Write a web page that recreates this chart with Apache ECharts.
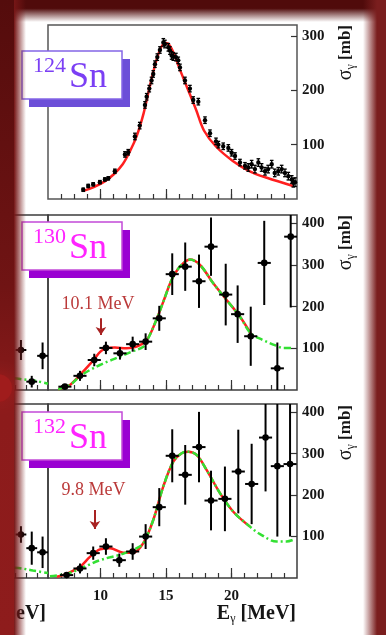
<!DOCTYPE html>
<html><head><meta charset="utf-8">
<script src="https://cdn.jsdelivr.net/npm/echarts@6/dist/echarts.min.js"></script>
<style>html,body{margin:0;padding:0;background:#ffffff;}#c{width:386px;height:635px;}</style>
</head><body><div id="c"></div>
<script>
// ---------- axis ticks ----------
var xMinorTicks = [7,8,9,10,11,12,13,14,15,16,17,18,19,20,21,22,23,24];
var xMajorTicks = [10,15,20];
var xTickLabels = [10,15,20];
var fragTicks = [21,22,23,24];
var yTicks124 = [100,200,300];
var yTicks13x = [100,200,300,400];

// ---------- 124Sn ----------
var sn124E = [8.69,9.07,9.45,9.96,10.34,10.6,11.1,11.87,12.12,12.63,13.0,13.4,13.53,13.73,13.9,14.03,14.16,14.34,14.54,14.8,14.92,15.18,15.3,15.43,15.56,15.76,15.94,16.07,16.45,16.83,17.08,17.47,17.98,18.36,18.82,19.0,19.37,19.76,20.01,20.27,20.65,21.03,21.28,21.54,21.79,22.05,22.3,22.56,22.8,23.07,23.3,23.57,23.83,24.08,24.34,24.6,24.72,24.85];
var sn124S = [17,24,27,31,36,38,51,82,86,115,135,173,188,203,218,230,248,261,274,288,285,279,273,264,262,261,255,242,218,203,182,179,145,121,106,100,97,94,85,79,67,61,58,64,55,67,58,51,55,64,48,51,55,48,42,36,30,31];
var sn124Err = [3,3,3,3,3,3,4,5,5,6,6,6,6,6,6,6,6,6,6,7,7,7,7,7,7,7,6,6,6,6,6,6,6,6,6,6,6,6,6,6,6,6,7,7,7,7,7,7,7,7,7,7,7,7,7,7,8,8];
var fit124E = [8.7,9.5,10.3,11.0,11.7,12.3,12.8,13.3,13.7,14.1,14.5,14.8,15.05,15.3,15.6,16.0,16.6,17.3,17.9,18.8,20.1,21.4,22.7,24.7];
var fit124S = [15,22,32,45,64,90,118,158,200,240,272,285,287,282,268,242,206,164,126,97,70,51,39,24];

// ---------- 130Sn ----------
var sn130E = [7.29,8.44,9.53,10.42,11.49,12.46,13.45,14.49,15.48,16.47,17.52,18.44,19.56,20.47,21.47,22.5,23.5,24.52];
var sn130S = [8,34,72,101,88,110,116,172,278,296,261,344,229,182,129,305,52,368];
var sn130Err = [5,12,15,15,15,18,20,30,50,58,64,70,74,69,71,101,62,170];
var fit130E = [6.78,7.67,8.44,9.2,9.58,10.0,10.42,11.1,12.0,12.76,13.53,14.16,14.8,15.43,16.07,16.83,17.6,18.61,19.63,20.65,21.47];
var fit130S = [2,12,36,62,76,92,100,102,100,104,120,160,212,264,296,313,300,256,216,176,136];
var bg130E = [6.78,7.67,8.44,9.2,9.96,10.7,11.49,12.4,13.27,13.6,14.16,14.8,15.43,16.07,16.83,17.6,18.61,19.63,20.65,21.47,22.4,23.45,23.95,24.7];
var bg130S = [2,12,33,48,60,70,80,92,104,121,160,212,264,296,313,300,256,216,176,136,120,106,101,101];
var frag130E = [22.5,23.5,24.5];
var frag130S = [96,20,82];
var frag130Err = [24,14,32];
var fragBg130E = [21.9,22.55,23.8,25.0];
var fragBg130S = [28,26,22,15];
var arrow130 = {e:10.04, from:172, to:132, labelE:9.81, labelS:206, text:'10.1 MeV'};

// ---------- 132Sn ----------
var sn132E = [7.42,8.44,9.45,10.42,11.44,12.46,13.45,14.49,15.48,16.47,17.52,18.44,19.5,20.52,21.54,22.6,23.5,24.47];
var sn132S = [7,23,60,76,43,64,100,171,295,249,316,187,191,257,227,339,270,275];
var sn132Err = [5,12,16,20,16,20,30,46,64,72,85,72,78,101,97,130,170,175];
var fit132E = [6.66,7.42,8.44,9.2,9.96,10.73,11.74,12.5,13.27,14.03,14.8,15.56,16.2,16.7,17.34,18.1,19.12,20.14,21.41];
var fit132S = [3,10,27,51,69,72,61,61,84,140,221,281,301,305,297,261,205,160,124];
var bg132E = [6.15,7.42,8.44,9.2,9.96,10.73,11.49,12.3,13.0,13.35,14.03,14.8,15.56,16.2,16.7,17.34,18.1,19.12,20.14,21.41,22.18,23.45,24.2,24.7];
var bg132S = [4,10,22,33,43,50,56,66,76,88,140,221,281,301,305,297,261,205,160,124,106,88,88,92];
var frag132E = [22.5,23.5,24.5];
var frag132S = [105,72,62];
var frag132Err = [20,40,38];
var fragBg132E = [21.9,22.6,23.6,25.0];
var fragBg132S = [25,23,18,12];
var arrow132 = {e:9.58, from:164, to:118, labelE:9.47, labelS:212, text:'9.8 MeV'};

// ---------- rendering ----------
var FONT = "'Liberation Serif','DejaVu Serif',serif";
var RED = '#ff1f1f', GREEN = '#33e033';

function zip(a, b, c) { return a.map(function (v, i) { return c ? [v, b[i], c[i]] : [v, b[i]]; }); }

function errRender(halfW, cap, r, lw) {
  return function (params, api) {
    var cs = params.coordSys;
    var x = api.value(0), y = api.value(1), e = api.value(2);
    var c = api.coord([x, y]);
    var top = api.coord([x, y + e])[1], bot = api.coord([x, y - e])[1];
    var y0 = cs.y, y1 = cs.y + cs.height, x0 = cs.x, x1 = cs.x + cs.width;
    var st = {stroke: '#000', lineWidth: lw};
    var ch = [];
    ch.push({type: 'line', shape: {x1: c[0], y1: Math.max(top, y0), x2: c[0], y2: Math.min(bot, y1)}, style: st});
    if (halfW > 0) {
      var l = Math.max(api.coord([x - halfW, y])[0], x0), rr = Math.min(api.coord([x + halfW, y])[0], x1);
      if (c[1] >= y0 && c[1] <= y1) ch.push({type: 'line', shape: {x1: l, y1: c[1], x2: rr, y2: c[1]}, style: st});
    }
    if (cap > 0) {
      if (top >= y0) ch.push({type: 'line', shape: {x1: c[0] - cap, y1: top, x2: c[0] + cap, y2: top}, style: st});
      if (bot <= y1) ch.push({type: 'line', shape: {x1: c[0] - cap, y1: bot, x2: c[0] + cap, y2: bot}, style: st});
    }
    if (c[1] >= y0 && c[1] <= y1) ch.push({type: 'circle', shape: {cx: c[0], cy: c[1], r: r}, style: {fill: '#000'}});
    return {type: 'group', children: ch};
  };
}

function errSeries(xi, yi, E, S, Err, halfW, cap, r, lw) {
  return {type: 'custom', xAxisIndex: xi, yAxisIndex: yi, data: zip(E, S, Err),
    renderItem: errRender(halfW, cap, r, lw), encode: {x: 0, y: 1}, z: 5, silent: true};
}
function lineSeries(xi, yi, E, S, color, dash, extra) {
  var s = {type: 'line', xAxisIndex: xi, yAxisIndex: yi, data: zip(E, S), smooth: 0.35,
    showSymbol: false, symbol: 'none', clip: true, silent: true, z: dash ? 4 : 3,
    lineStyle: {color: color, width: 2.5, type: dash || 'solid'}};
  if (extra) for (var k in extra) s[k] = extra[k];
  return s;
}
function arrowMark(a) {
  return {markLine: {silent: true, symbol: ['none', 'arrow'], symbolSize: 8,
    lineStyle: {color: '#a82222', width: 2, type: 'solid'}, label: {show: false},
    data: [[{coord: [a.e, a.from]}, {coord: [a.e, a.to]}]]}};
}

var frameCol = '#3c3c3c';
var grids = [
  {left: 48, top: 25, width: 249, height: 174, show: true, borderColor: '#555', borderWidth: 1.5},
  {left: 48, top: 215, width: 249, height: 175, show: true, borderColor: frameCol, borderWidth: 1.5},
  {left: 48, top: 404, width: 249, height: 174, show: true, borderColor: frameCol, borderWidth: 1.5},
  {left: -10, top: 215, width: 58, height: 175, show: true, borderColor: frameCol, borderWidth: 1.5},
  {left: -10, top: 404, width: 58, height: 174, show: true, borderColor: frameCol, borderWidth: 1.5}
];

var tickStyle = {color: '#333', width: 1.2};
function xAx(gi, min, max, ticks, len, labels) {
  return {type: 'value', gridIndex: gi, min: min, max: max, position: 'bottom',
    axisLine: {show: false}, splitLine: {show: false},
    axisTick: {show: true, inside: true, length: len, customValues: ticks, lineStyle: tickStyle},
    axisLabel: labels ? {show: true, customValues: labels, margin: 11, fontSize: 15, fontWeight: 'bold', fontFamily: FONT, color: '#151515'} : {show: false}};
}
function yAx(gi, max, ticks, show) {
  if (!show) return {type: 'value', gridIndex: gi, min: 0, max: max, show: false, splitLine: {show: false}};
  return {type: 'value', gridIndex: gi, min: 0, max: max, position: 'right',
    axisLine: {show: false}, splitLine: {show: false},
    axisTick: {show: true, inside: true, length: 6, customValues: ticks, lineStyle: tickStyle},
    axisLabel: {show: true, customValues: ticks, margin: 5, fontSize: 15, fontWeight: 'bold', fontFamily: FONT, color: '#151515'}};
}

var xAxes = [
  xAx(0, 6, 25, xMinorTicks, 5), xAx(1, 6, 25, xMinorTicks, 5), xAx(2, 6, 25, xMinorTicks, 5, xTickLabels),
  xAx(3, 20.57, 25, fragTicks, 5), xAx(4, 20.57, 25, fragTicks, 5),
  xAx(0, 6, 25, xMajorTicks, 10), xAx(1, 6, 25, xMajorTicks, 10), xAx(2, 6, 25, xMajorTicks, 10)
];
var yAxes = [yAx(0, 320, yTicks124, true), yAx(1, 420, yTicks13x, true), yAx(2, 420, yTicks13x, true), yAx(3, 420, null, false), yAx(4, 420, null, false)];

var dashPat = [7, 3, 2, 3];
var series = [
  lineSeries(0, 0, fit124E, fit124S, RED),
  errSeries(0, 0, sn124E, sn124S, sn124Err, 0, 1.8, 2.2, 1.3),

  lineSeries(1, 1, fit130E, fit130S, RED, null, arrowMark(arrow130)),
  lineSeries(1, 1, bg130E, bg130S, GREEN, dashPat),
  errSeries(1, 1, sn130E, sn130S, sn130Err, 0.5, 0, 3.3, 2),
  lineSeries(3, 3, fragBg130E, fragBg130S, GREEN, dashPat),
  errSeries(3, 3, frag130E, frag130S, frag130Err, 0.5, 0, 3.3, 2),

  lineSeries(2, 2, fit132E, fit132S, RED, null, arrowMark(arrow132)),
  lineSeries(2, 2, bg132E, bg132S, GREEN, dashPat),
  errSeries(2, 2, sn132E, sn132S, sn132Err, 0.5, 0, 3.3, 2),
  lineSeries(4, 4, fragBg132E, fragBg132S, GREEN, dashPat),
  errSeries(4, 4, frag132E, frag132S, frag132Err, 0.5, 0, 3.3, 2)
];

// ---------- decoration (border vignette, label boxes, titles) ----------
function hfade(c, toRight) {
  var tr = c.replace('rgb(', 'rgba(').replace(')', ',0)');
  return {type: 'linear', x: 0, y: 0, x2: 1, y2: 0,
    colorStops: toRight ? [{offset: 0, color: tr}, {offset: 1, color: c}] : [{offset: 0, color: c}, {offset: 1, color: tr}]};
}
function baseGraphics() {
  var g = [];
  var Z = 200;
  g.push({id: 'ft', type: 'rect', z: Z, shape: {x: 0, y: 0, width: 386, height: 22},
    style: {fill: {type: 'linear', x: 0, y: 0, x2: 0, y2: 1, colorStops: [
      {offset: 0, color: 'rgb(80,11,11)'}, {offset: 0.38, color: 'rgb(80,11,11)'}, {offset: 1, color: 'rgba(80,11,11,0)'}]}}});
  g.push({id: 'fl', type: 'rect', z: Z, shape: {x: 0, y: 0, width: 14, height: 635},
    style: {fill: {type: 'linear', x: 0, y: 0, x2: 0, y2: 1, colorStops: [
      {offset: 0, color: 'rgb(84,12,12)'}, {offset: 0.45, color: 'rgb(112,20,20)'}, {offset: 0.65, color: 'rgb(140,27,27)'}, {offset: 1, color: 'rgb(142,28,28)'}]}}});
  g.push({id: 'flf', type: 'rect', z: Z, shape: {x: 14, y: 0, width: 12, height: 635}, style: {fill: hfade('rgb(118,22,22)', false)}});
  g.push({id: 'fr', type: 'rect', z: Z, shape: {x: 363, y: 0, width: 14, height: 635}, style: {fill: hfade('rgb(122,30,30)', true)}});
  g.push({id: 'fr2', type: 'rect', z: Z, shape: {x: 377, y: 0, width: 9, height: 635}, style: {fill: 'rgb(122,30,30)'}});
  g.push({id: 'blob', type: 'circle', z: Z + 1, shape: {cx: -2, cy: 388, r: 14},
    style: {fill: '#a01c1c', shadowBlur: 16, shadowColor: '#a01c1c'}});

  function box(id, top, shadowC, borderC, textC, mass) {
    g.push({id: id + 'sh', type: 'rect', z: 50, shape: {x: 29, y: top + 8, width: 101, height: 48}, style: {fill: shadowC}});
    g.push({id: id + 'bx', type: 'rect', z: 51, shape: {x: 22, y: top, width: 100, height: 48}, style: {fill: '#fff', stroke: borderC, lineWidth: 1.5}});
    g.push({id: id + 'm', type: 'text', z: 52, x: 33, y: top + 15, style: {text: mass, fill: textC, font: '22px ' + FONT, align: 'left', verticalAlign: 'middle'}});
    g.push({id: id + 's', type: 'text', z: 52, x: 69, y: top + 27, style: {text: 'Sn', fill: textC, font: '36px ' + FONT, align: 'left', verticalAlign: 'middle'}});
  }
  box('b1', 51, '#6c4fd8', '#8466e6', '#7b3ff4', '124');
  box('b2', 222, '#9a00d2', '#c24ad8', '#ff24ff', '130');
  box('b3', 412, '#9a00d2', '#c24ad8', '#ff24ff', '132');

  var yRich = {s: {fontSize: 20, fontFamily: FONT, fill: '#151515'},
               g: {fontSize: 12, fontFamily: FONT, fill: '#151515', padding: [10, 0, 0, 0]},
               b: {fontSize: 17, fontWeight: 'bold', fontFamily: FONT, fill: '#151515'}};
  [25, 215, 405].forEach(function (t, i) {
    g.push({id: 'yt' + i, type: 'text', z: 52, x: 346, y: t, rotation: Math.PI / 2,
      style: {text: '{s|σ}{g|γ}{b| [mb]}', rich: yRich, align: 'right', verticalAlign: 'middle'}});
  });
  g.push({id: 'xt', type: 'text', z: 52, x: 296, y: 614,
    style: {text: '{e|E}{g|γ}{e| [MeV]}', align: 'right', verticalAlign: 'middle',
      rich: {e: {fontSize: 20, fontWeight: 'bold', fontFamily: FONT, fill: '#151515'},
             g: {fontSize: 12, fontFamily: FONT, fill: '#151515', padding: [10, 0, 0, 0]}}}});
  g.push({id: 'xt2', type: 'text', z: 52, x: 46, y: 614,
    style: {text: 'eV]', fill: '#151515', font: 'bold 20px ' + FONT, align: 'right', verticalAlign: 'middle'}});
  return g;
}

var chart = echarts.init(document.getElementById('c'), null, {renderer: 'canvas'});
chart.setOption({animation: false, backgroundColor: '#ffffff', graphic: baseGraphics(),
  grid: grids, xAxis: xAxes, yAxis: yAxes, series: series});

var g2 = baseGraphics();
[[1, arrow130, 'a1'], [2, arrow132, 'a2']].forEach(function (it) {
  var p = chart.convertToPixel({gridIndex: it[0]}, [it[1].labelE, it[1].labelS]);
  g2.push({id: it[2], type: 'text', z: 52, x: p[0], y: p[1],
    style: {text: it[1].text, fill: '#bb3a3a', font: '18px ' + FONT, align: 'center', verticalAlign: 'middle'}});
});
chart.setOption({graphic: g2});
</script></body></html>
